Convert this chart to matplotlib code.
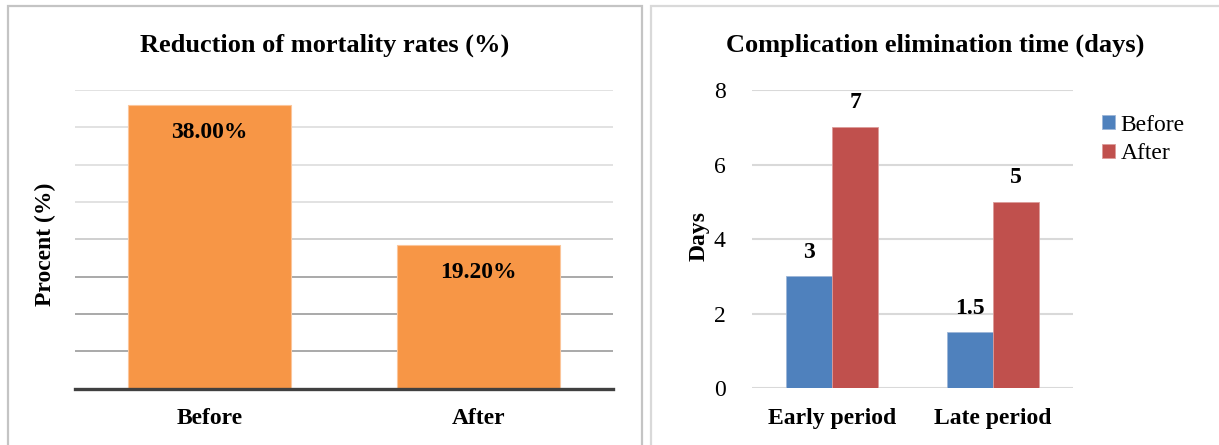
import matplotlib.pyplot as plt
from matplotlib.patches import Rectangle

plt.rcParams['font.family'] = ['Liberation Serif', 'DejaVu Serif']

# mortality panel
mort_groups = ["Before", "After"]
mort_values = [38.00, 19.20]

# complication panel
periods = ["Early period", "Late period"]
days_before = [3, 1.5]
days_after = [7, 5]
series_names = ["Before", "After"]

fig = plt.figure(figsize=(12.19, 4.45), dpi=100)

# panel frames
fig.patches.append(Rectangle((8 / 1219, -0.05), 634 / 1219, 1.05 - 6 / 445,
                             transform=fig.transFigure, fill=False,
                             edgecolor="#c4c4c4", linewidth=1.6))
fig.patches.append(Rectangle((651 / 1219, -0.05), 580 / 1219, 1.05 - 6 / 445,
                             transform=fig.transFigure, fill=False,
                             edgecolor="#d9d9d9", linewidth=1.6))

# ---- left: reduction of mortality rates ----
ax1 = fig.add_axes([75 / 1219, 1 - 388.7 / 445, 538 / 1219, 298.7 / 445])
x1 = list(range(len(mort_groups)))
ax1.set_xlim(-0.5, len(mort_groups) - 0.5)
ax1.set_ylim(0, 40)
for lvl in range(5, 45, 5):
    col = "#a9a9a9" if lvl <= 15 else ("#cfcfcf" if lvl == 20 else "#e2e2e2")
    ax1.axhline(lvl, color=col, linewidth=1.4, zorder=0)
bars1 = ax1.bar(x1, mort_values, width=0.606, color="#f79646",
                edgecolor="#fbc59a", linewidth=0.8, zorder=2)
ax1.axhline(0, color="#404040", linewidth=2.4, zorder=3, clip_on=False)
for b, v in zip(bars1, mort_values):
    ax1.annotate(f"{v:.2f}%", (b.get_x() + b.get_width() / 2, v),
                 xytext=(0, -19.5), textcoords="offset points",
                 ha="center", va="center", fontsize=17, fontweight="bold")
ax1.set_xticks(x1)
ax1.set_xticklabels(mort_groups, fontsize=17, fontweight="bold")
ax1.tick_params(axis="x", length=0, pad=14)
ax1.set_yticks([])
for s in ax1.spines.values():
    s.set_visible(False)
fig.text(45 / 1219, 1 - 244.5 / 445, "Procent (%)", rotation=90,
         ha="center", va="center", fontsize=17, fontweight="bold")
fig.text(325 / 1219, 1 - 45 / 445, "Reduction of mortality rates (%)",
         ha="center", va="center", fontsize=19, fontweight="bold")

# ---- right: complication elimination time ----
ax2 = fig.add_axes([752 / 1219, 1 - 388.3 / 445, 321 / 1219, 298.3 / 445])
x2 = list(range(len(periods)))
w = 0.287
ax2.set_xlim(-0.5, len(periods) - 0.5)
ax2.set_ylim(0, 8)
ax2.set_yticks([0, 2, 4, 6, 8])
ax2.yaxis.grid(True, color="#d9d9d9", linewidth=1.5)
ax2.set_axisbelow(True)
b_before = ax2.bar([i - w / 2 for i in x2], days_before, width=w,
                   color="#4f81bd", edgecolor="#9db6d8", linewidth=0.6,
                   label=series_names[0], zorder=2)
b_after = ax2.bar([i + w / 2 for i in x2], days_after, width=w,
                  color="#c0504d", edgecolor="#dc9c9a", linewidth=0.6,
                  label=series_names[1], zorder=2)
for bars, vals in ((b_before, days_before), (b_after, days_after)):
    for b, v in zip(bars, vals):
        ax2.annotate(f"{v:g}", (b.get_x() + b.get_width() / 2, v),
                     xytext=(0, 17.5), textcoords="offset points",
                     ha="center", va="center", fontsize=17, fontweight="bold")
ax2.set_xticks(x2)
ax2.set_xticklabels(periods, fontsize=17, fontweight="bold")
ax2.tick_params(axis="x", length=0, pad=14)
ax2.tick_params(axis="y", length=0, pad=19, labelsize=17)
for s in ax2.spines.values():
    s.set_visible(False)
fig.text(699 / 1219, 1 - 236 / 445, "Days", rotation=90,
         ha="center", va="center", fontsize=17, fontweight="bold")
fig.text(935 / 1219, 1 - 45 / 445, "Complication elimination time (days)",
         ha="center", va="center", fontsize=19, fontweight="bold")

fig.legend(handles=[b_before, b_after], labels=series_names,
           loc="upper left", bbox_to_anchor=(1085 / 1219, 1 - 98 / 445),
           frameon=False, fontsize=17, handlelength=0.55, handleheight=0.55,
           handletextpad=0.25, labelspacing=0.33, borderpad=0.2)

fig.savefig("out.png", dpi=100)
